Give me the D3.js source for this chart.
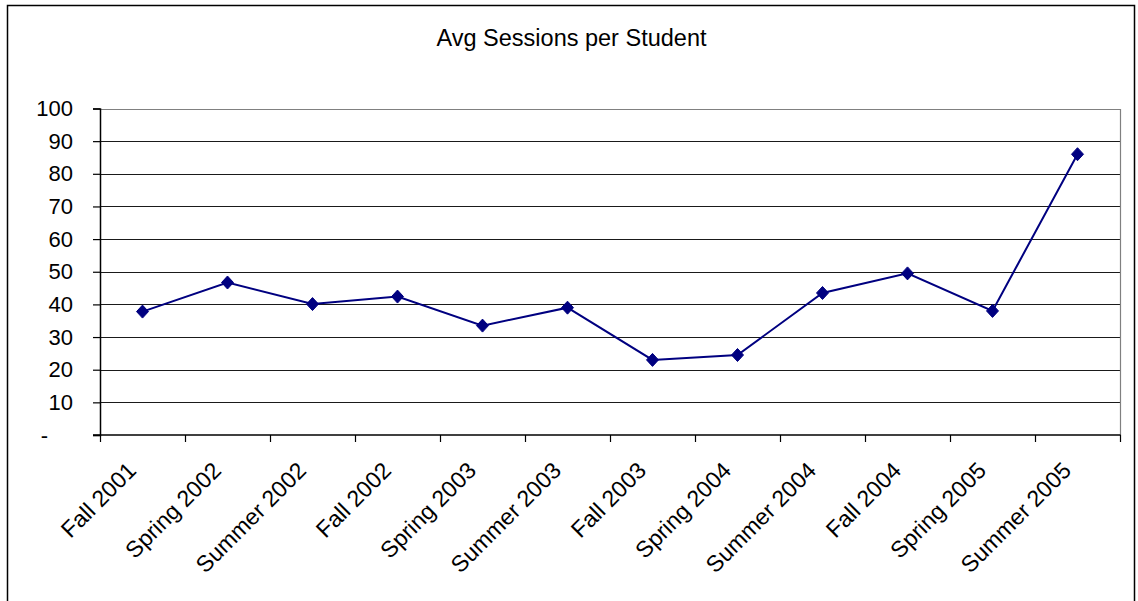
<!DOCTYPE html>
<html>
<head>
<meta charset="utf-8">
<script src="https://cdn.jsdelivr.net/npm/d3@7"></script>
<style>
  html, body { margin: 0; padding: 0; background: #fff; }
  svg { display: block; }
  text { font-family: "Liberation Sans", Arial, sans-serif; fill: #000; }
</style>
</head>
<body>
<svg id="chart" width="1138" height="601"></svg>
<script>
// Semester labels along the horizontal axis
const terms = [
  "Fall 2001", "Spring 2002", "Summer 2002", "Fall 2002",
  "Spring 2003", "Summer 2003", "Fall 2003", "Spring 2004",
  "Summer 2004", "Fall 2004", "Spring 2005", "Summer 2005"
];

// Average sessions per student for each semester
const avgSessions = [37.8, 46.7, 40.1, 42.4, 33.5, 39.0, 23.0, 24.5, 43.5, 49.5, 38.0, 86.0];

// Value axis ticks and their printed labels (zero shown as a dash)
const yTickValues = [0, 10, 20, 30, 40, 50, 60, 70, 80, 90, 100];
const yTickLabels = ["-", "10", "20", "30", "40", "50", "60", "70", "80", "90", "100"];

const chartTitle = "Avg Sessions per Student";

const svg = d3.select("#chart");

const plot = { left: 100, right: 1120, top: 108.5, bottom: 435 };

// Outer chart frame
svg.append("rect")
  .attr("x", 7.5).attr("y", 5.5)
  .attr("width", 1127).attr("height", 620)
  .attr("fill", "#fff")
  .attr("stroke", "#000")
  .attr("stroke-width", 1.5);

const x = d3.scaleBand()
  .domain(terms)
  .range([plot.left, plot.right])
  .padding(0);

const y = d3.scaleLinear()
  .domain([0, 100])
  .range([plot.bottom, plot.top]);

// Horizontal gridlines
svg.append("g")
  .selectAll("line")
  .data(yTickValues.filter(v => v > 0 && v < 100))
  .join("line")
  .attr("x1", plot.left).attr("x2", plot.right)
  .attr("y1", d => Math.round(y(d)) + 0.5)
  .attr("y2", d => Math.round(y(d)) + 0.5)
  .attr("stroke", "#1a1a1a")
  .attr("stroke-width", 1);

// Plot area border (top and right)
svg.append("path")
  .attr("d", `M${plot.left},${Math.round(plot.top) + 0.5}H${plot.right + 0.5}V${plot.bottom}`)
  .attr("fill", "none")
  .attr("stroke", "#808080")
  .attr("stroke-width", 1.2);

// Value axis
const yAxis = d3.axisLeft(y)
  .tickValues(yTickValues)
  .tickFormat((d, i) => yTickLabels[i])
  .tickSize(7)
  .tickPadding(20);

const gy = svg.append("g")
  .attr("transform", `translate(${plot.left},0)`)
  .call(yAxis);
gy.select(".domain").attr("stroke", "#000").attr("stroke-width", 1.5);
gy.selectAll(".tick line").attr("stroke", "#000").attr("stroke-width", 1.2);
gy.selectAll(".tick text")
  .style("font-size", "22px")
  .style("font-family", "'Liberation Sans', Arial, sans-serif")
  .attr("fill", "#000")
  .attr("x", d => d === 0 ? -52 : -27);

// Category axis line and tick marks at category boundaries
const boundaries = terms.map(t => x(t)).concat([x.range()[1]]);
svg.append("line")
  .attr("x1", plot.left - 7).attr("x2", plot.right + 0.5)
  .attr("y1", plot.bottom).attr("y2", plot.bottom)
  .attr("stroke", "#000")
  .attr("stroke-width", 1.5);
svg.append("g")
  .selectAll("line")
  .data(boundaries)
  .join("line")
  .attr("x1", d => Math.round(d) + 0.5).attr("x2", d => Math.round(d) + 0.5)
  .attr("y1", plot.bottom).attr("y2", plot.bottom + 7)
  .attr("stroke", "#000")
  .attr("stroke-width", 1.2);

// Rotated category labels
svg.append("g")
  .selectAll("text")
  .data(terms)
  .join("text")
  .attr("transform", d => `translate(${x(d) + x.bandwidth() / 2 - 5},472) rotate(-45)`)
  .attr("text-anchor", "end")
  .style("font-size", "23px")
  .text(d => d);

// Series line
const cx = d => x(d) + x.bandwidth() / 2;
const line = d3.line()
  .x((d, i) => cx(terms[i]))
  .y(d => y(d));

svg.append("path")
  .datum(avgSessions)
  .attr("d", line)
  .attr("fill", "none")
  .attr("stroke", "#000080")
  .attr("stroke-width", 2);

// Diamond markers
svg.append("g")
  .selectAll("path")
  .data(avgSessions)
  .join("path")
  .attr("transform", (d, i) => `translate(${cx(terms[i])},${y(d)})`)
  .attr("d", "M0,-6.5L6,0L0,6.5L-6,0Z")
  .attr("fill", "#000080")
  .attr("stroke", "#000080")
  .attr("stroke-width", 1);

// Title
svg.append("text")
  .attr("x", 571.5)
  .attr("y", 46)
  .attr("text-anchor", "middle")
  .style("font-size", "23.5px")
  .text(chartTitle);
</script>
</body>
</html>
